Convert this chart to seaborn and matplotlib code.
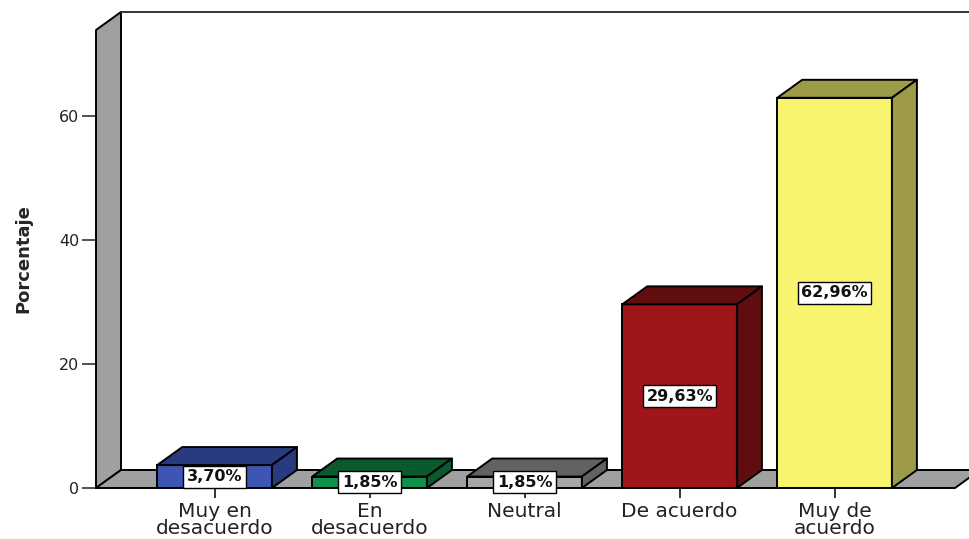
import numpy as np
import pandas as pd
import matplotlib
matplotlib.use("Agg")
import matplotlib.pyplot as plt
from matplotlib.patches import Polygon
import seaborn as sns

# data
categories = ["Muy en\ndesacuerdo", "En\ndesacuerdo", "Neutral", "De acuerdo", "Muy de\nacuerdo"]
percentages = [3.70, 1.85, 1.85, 29.63, 62.96]
value_labels = ["3,70%", "1,85%", "1,85%", "29,63%", "62,96%"]
y_ticks = [0, 20, 40, 60]

front_colors = ["#3c56b2", "#11904a", "#a6a6a6", "#a0151a", "#f9f46f"]
depth_colors = ["#283a80", "#0a5a2e", "#626262", "#600d10", "#9d9a48"]
wall_color = "#a0a0a0"

sns.set_theme(style="white")
plt.rcParams['font.family'] = ['DejaVu Sans']

W, H = 969, 539
fig = plt.figure(figsize=(W / 100, H / 100), dpi=100)
left_px, bottom_px, right_px, top_px = 96, 51, 955, 509
ax = fig.add_axes([left_px / W, bottom_px / H, (right_px - left_px) / W, (top_px - bottom_px) / H])

xmin, xmax = -0.765, 4.777
ymin, ymax = 0, 73.9
ax.set_xlim(xmin, xmax)
ax.set_ylim(ymin, ymax)

# 3d offset in pixels -> data units
off_px_x, off_px_y = 25, 18
dx = off_px_x * (xmax - xmin) / (right_px - left_px)
dy = off_px_y * (ymax - ymin) / (top_px - bottom_px)

df = pd.DataFrame({"cat": categories, "pct": percentages})
sns.barplot(data=df, x="cat", y="pct", hue="cat", palette=front_colors,
            width=0.74, edgecolor="black", linewidth=1.4, legend=False,
            saturation=1, ax=ax, zorder=3)
ax.set_xlim(xmin, xmax)
ax.set_ylim(ymin, ymax)

edge_kw = dict(edgecolor="black", linewidth=1.4, joinstyle="round", clip_on=False)

# left wall, floor and back wall top edge
ax.add_patch(Polygon([(xmin, 0), (xmin, ymax), (xmin + dx, ymax + dy), (xmin + dx, dy)],
                     facecolor=wall_color, zorder=1, **edge_kw))
ax.add_patch(Polygon([(xmin, 0), (xmin + dx, dy), (xmax + dx, dy), (xmax, 0)],
                     facecolor=wall_color, zorder=1, **edge_kw))
ax.plot([xmin + dx, xmax + 2 * dx], [ymax + dy, ymax + dy], color="#333333",
        lw=1.4, clip_on=False, zorder=1)

# top and side faces of each bar
for i, bar in enumerate(ax.patches[:len(percentages)]):
    x0 = bar.get_x()
    x1 = x0 + bar.get_width()
    h = bar.get_height()
    ax.add_patch(Polygon([(x0, h), (x0 + dx, h + dy), (x1 + dx, h + dy), (x1, h)],
                         facecolor=depth_colors[i], zorder=3, **edge_kw))
    ax.add_patch(Polygon([(x1, 0), (x1 + dx, dy), (x1 + dx, h + dy), (x1, h)],
                         facecolor=depth_colors[i], zorder=3, **edge_kw))
    ax.text((x0 + x1) / 2, h / 2, value_labels[i], ha="center", va="center",
            fontsize=11.5, fontweight="bold", color="#111111", zorder=5,
            bbox=dict(boxstyle="square,pad=0.22", facecolor="white",
                      edgecolor="black", linewidth=1.0))

for s in ax.spines.values():
    s.set_visible(False)
ax.set_facecolor("none")
ax.set_yticks(y_ticks)
ax.set_yticklabels([str(t) for t in y_ticks], fontsize=11.5, color="#222222")
ax.tick_params(axis="y", left=True, length=10, width=1.2, color="#333333", pad=2)
ax.tick_params(axis="x", bottom=True, length=7, width=1.4, color="#333333", pad=3)
ax.set_xticks(range(len(categories)))
ax.set_xticklabels(categories, fontsize=14.5, color="#222222", linespacing=0.88)
ax.set_xlabel("")
ax.set_ylabel("Porcentaje", fontsize=13, fontweight="bold", labelpad=19.5)

fig.savefig("out.png", dpi=100)
